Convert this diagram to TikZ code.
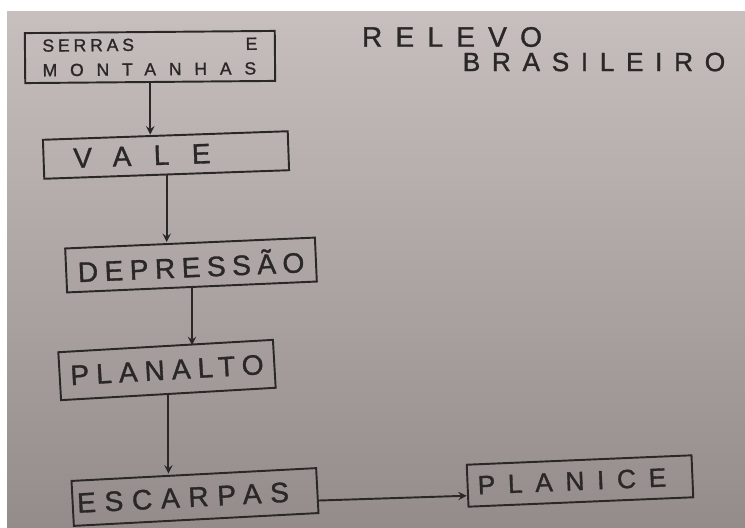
\documentclass[tikz,border=0pt]{standalone}
\usepackage{fontspec}
\setmainfont[FakeBold=1.2]{Liberation Sans}
\usetikzlibrary{calc}
\usetikzlibrary{positioning}

\definecolor{papel}{HTML}{C6BFBD}
\definecolor{papelmeio}{HTML}{B4ACAA}
\definecolor{papelescuro}{HTML}{948C8A}
\definecolor{caneta}{HTML}{2A2727}

\newcommand{\letras}[2]{\fontsize{#1}{#1}\selectfont\addfontfeature{LetterSpace=#2}}

\tikzset{
  caixa/.style={draw=caneta, line width=1.1pt, text=caneta, inner sep=0pt},
  seta/.style={->, >=stealth, draw=caneta, line width=1.1pt},
  titulo/.style={text=caneta, inner sep=0pt}
}

\begin{document}
\begin{tikzpicture}[x=0.02cm, y=-0.02cm]
      % Fundo: folha de papel
      \fill[white] (0,0) rectangle (745,528);
      \shade[top color=papel, middle color=papelmeio, bottom color=papelescuro] (7,11) rectangle (745,528);
      \useasboundingbox (0,0) rectangle (745,528);

      % Titulo
      \node[titulo, font=\letras{16}{47}] (relevo) at (452,37) {RELEVO};
      \node[titulo, font=\letras{15}{44}] (brasileiro) at (594,62) {BRASILEIRO};

      % Caixas do fluxo
      \node[caixa, rotate=0.5, minimum width=5cm, minimum height=1cm, text width=4.3cm,
            inner xsep=0.35cm, align=left, font=\fontsize{10}{14}\selectfont\addfontfeature{LetterSpace=73}]
            (serras) at (150,57) {{\addfontfeature{LetterSpace=22}SERRAS}\hfill E\\MONTANHAS};
      \node[caixa, rotate=2, minimum width=4.9cm, minimum height=0.78cm, font=\letras{16}{80}] (vale) at (166,155) {VALE\hspace*{0.96cm}};
      \node[caixa, rotate=2.5, minimum width=5cm, minimum height=0.88cm, font=\letras{16}{23}] (depressao) at (191,265) {DEPRESSÃO};
      \node[caixa, rotate=3.3, minimum width=4.3cm, minimum height=0.96cm, font=\letras{16}{25}] (planalto) at (167,370) {PLANALTO};
      \node[caixa, rotate=3, minimum width=4.9cm, minimum height=0.9cm, font=\letras{16}{31}] (escarpas) at (195,497) {ESCARPAS\hspace*{0.48cm}};
      \node[caixa, rotate=2.4, minimum width=4.5cm, minimum height=0.84cm, font=\letras{15}{48}] (planice) at (580,481) {PLANICE\hspace*{0.32cm}};

      % Setas
      \draw[seta] (serras.south) -- (serras.south |- vale.north);
      \draw[seta] (vale.south) -- (vale.south |- depressao.north);
      \draw[seta] (depressao.south) -- (depressao.south |- planalto.north);
      \draw[seta] (planalto.south) -- (planalto.south |- escarpas.north);
      \draw[seta] ([yshift=-0.2cm]escarpas.east) -- ([yshift=-0.2cm]planice.west);
\end{tikzpicture}
\end{document}
